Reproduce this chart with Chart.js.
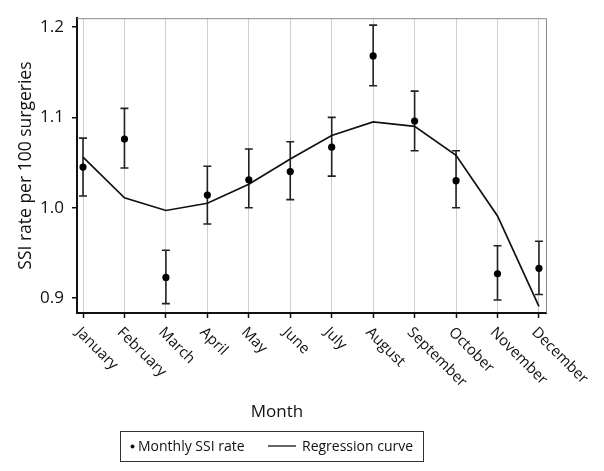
<!DOCTYPE html>
<html>
<head>
<meta charset="utf-8">
<script src="https://cdn.jsdelivr.net/npm/chart.js@4"></script>
<style>
  html, body { margin: 0; padding: 0; background: #fff; }
  #wrap { width: 604px; height: 471px; }
</style>
</head>
<body>
<div id="wrap"><canvas id="c" width="604" height="471"></canvas></div>
<script>
const months = ["January","February","March","April","May","June","July","August","September","October","November","December"];
const ssiRate    = [1.045, 1.076, 0.923, 1.014, 1.031, 1.040, 1.067, 1.168, 1.096, 1.030, 0.927, 0.933];
const ciLower    = [1.013, 1.044, 0.894, 0.982, 1.000, 1.009, 1.035, 1.135, 1.063, 1.000, 0.898, 0.904];
const ciUpper    = [1.077, 1.110, 0.953, 1.046, 1.065, 1.073, 1.100, 1.202, 1.129, 1.063, 0.958, 0.963];
const regression = [1.056, 1.011, 0.997, 1.005, 1.026, 1.054, 1.080, 1.095, 1.090, 1.058, 0.991, 0.891];
const yTicks = [0.9, 1.0, 1.1, 1.2];
const xTitle = "Month";
const yTitle = "SSI rate per 100 surgeries";
const legendLabels = ["Monthly SSI rate", "Regression curve"];

const FONT = "'Open Sans', 'DejaVu Sans', sans-serif";

const errorBars = {
  id: 'errorBars',
  beforeDatasetsDraw(chart) {
    const {ctx, chartArea, scales: {x, y}} = chart;
    ctx.save();
    // top and right frame
    ctx.strokeStyle = '#8a8a8a';
    ctx.lineWidth = 1;
    ctx.beginPath();
    ctx.moveTo(chartArea.left, chartArea.top + 0.5);
    ctx.lineTo(chartArea.right + 0.5, chartArea.top + 0.5);
    ctx.lineTo(chartArea.right + 0.5, chartArea.bottom);
    ctx.stroke();
    // error bars
    ctx.strokeStyle = '#222';
    ctx.lineWidth = 1.6;
    const cap = 4;
    ssiRate.forEach((v, i) => {
      const px = x.getPixelForValue(i);
      const yl = y.getPixelForValue(ciLower[i]);
      const yu = y.getPixelForValue(ciUpper[i]);
      ctx.beginPath();
      ctx.moveTo(px, yl); ctx.lineTo(px, yu);
      ctx.moveTo(px - cap, yl); ctx.lineTo(px + cap, yl);
      ctx.moveTo(px - cap, yu); ctx.lineTo(px + cap, yu);
      ctx.stroke();
    });
    ctx.restore();
  },
  afterDraw(chart) {
    const {ctx, scales: {x}} = chart;
    ctx.save();
    ctx.fillStyle = '#111';
    // rotated month labels
    ctx.font = "15px " + FONT;
    ctx.textAlign = 'left';
    ctx.textBaseline = 'middle';
    months.forEach((m, i) => {
      const px = x.getPixelForValue(i);
      ctx.save();
      ctx.translate(px - 5, 330);
      ctx.rotate(Math.PI / 4);
      ctx.fillText(m, 0, 0);
      ctx.restore();
    });
    // axis title
    ctx.font = "17px " + FONT;
    ctx.textAlign = 'center';
    ctx.fillText(xTitle, 277, 412);
    // legend
    ctx.strokeStyle = '#333';
    ctx.lineWidth = 1;
    ctx.strokeRect(120.5, 431.5, 303, 30);
    ctx.beginPath();
    ctx.arc(132.5, 446.5, 2, 0, Math.PI * 2);
    ctx.fill();
    ctx.font = "14px " + FONT;
    ctx.textAlign = 'left';
    ctx.textBaseline = 'middle';
    ctx.fillText(legendLabels[0], 138, 447);
    ctx.strokeStyle = '#111';
    ctx.lineWidth = 1.3;
    ctx.beginPath();
    ctx.moveTo(268, 446); ctx.lineTo(296, 446);
    ctx.stroke();
    ctx.fillText(legendLabels[1], 302, 447);
    ctx.restore();
  }
};

new Chart(document.getElementById('c'), {
  type: 'line',
  data: {
    datasets: [
      {
        label: legendLabels[0],
        data: ssiRate.map((v, i) => ({x: i, y: v})),
        showLine: false,
        pointRadius: 3.6,
        pointBackgroundColor: '#000',
        pointBorderColor: '#000',
        pointBorderWidth: 0,
        order: 0
      },
      {
        label: legendLabels[1],
        data: regression.map((v, i) => ({x: i, y: v})),
        borderColor: '#111',
        borderWidth: 1.7,
        pointRadius: 0,
        tension: 0,
        fill: false,
        order: 1
      }
    ]
  },
  options: {
    responsive: false,
    animation: false,
    devicePixelRatio: 1,
    layout: { padding: { top: 9, right: 58, bottom: 0, left: 0 } },
    plugins: { legend: { display: false }, tooltip: { enabled: false } },
    scales: {
      x: {
        type: 'linear',
        min: -0.145,
        max: 11.17,
        afterBuildTicks(scale) { scale.ticks = months.map((m, i) => ({value: i})); },
        afterFit(scale) { scale.height = 158; },
        ticks: { display: false },
        grid: {
          color: '#cfcfcf',
          lineWidth: 1,
          drawTicks: true,
          tickLength: 5,
          tickColor: '#111',
          tickWidth: 1.5
        },
        border: { color: '#111', width: 2 }
      },
      y: {
        type: 'linear',
        min: 0.8836,
        max: 1.2097,
        afterBuildTicks(scale) { scale.ticks = yTicks.map(v => ({value: v})); },
        afterFit(scale) { scale.width = 77; },
        ticks: {
          color: '#111',
          padding: 8,
          font: { family: FONT, size: 17 },
          callback: v => Number(v).toFixed(1)
        },
        grid: {
          drawOnChartArea: false,
          drawTicks: true,
          tickLength: 5,
          color: '#111',
          lineWidth: 1.5
        },
        border: { color: '#111', width: 2 },
        title: {
          display: true,
          text: yTitle,
          color: '#111',
          font: { family: FONT, size: 17.5 },
          padding: { top: 16, bottom: 0 }
        }
      }
    }
  },
  plugins: [errorBars]
});
</script>
</body>
</html>
